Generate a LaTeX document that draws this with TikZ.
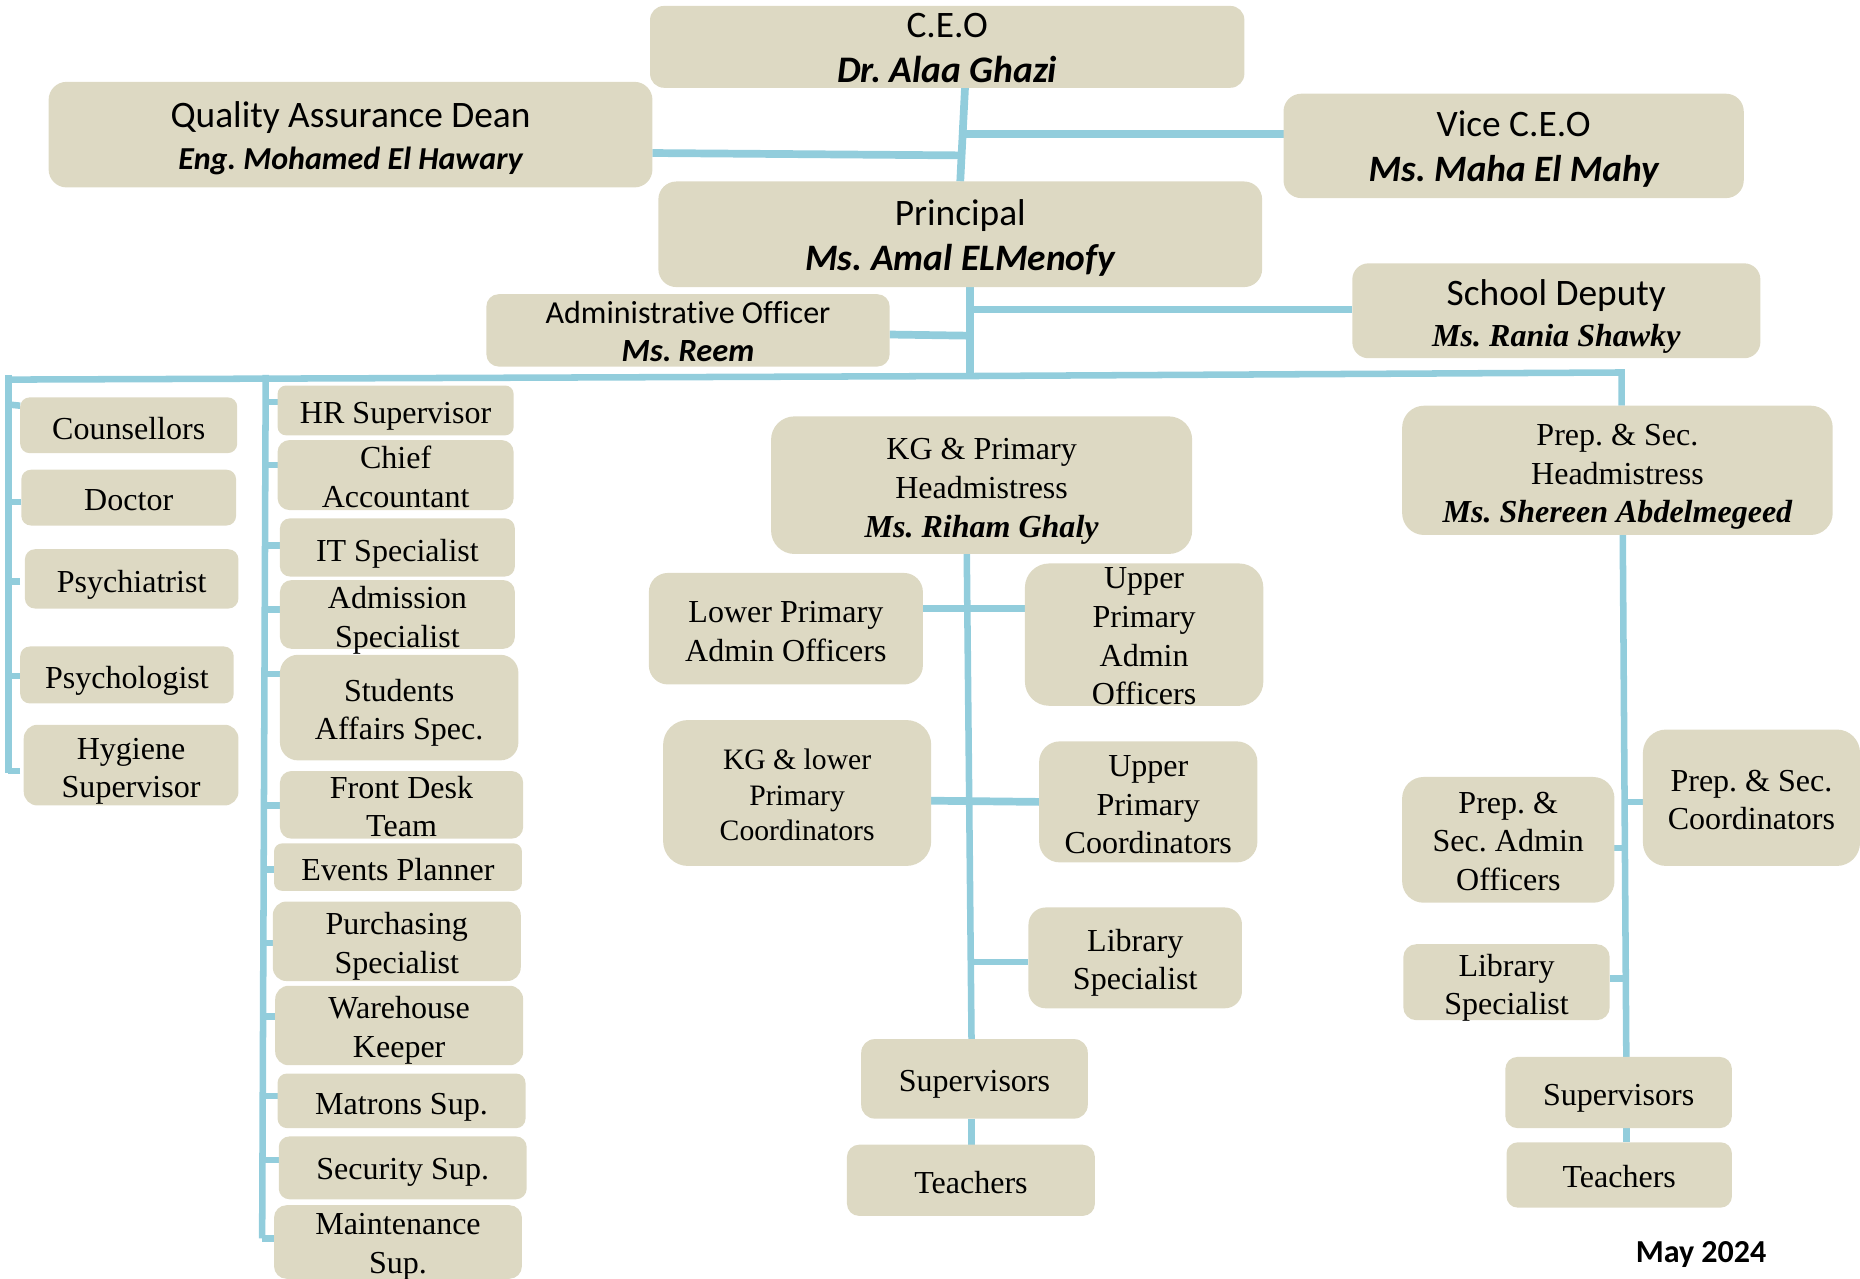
\documentclass[tikz,border=0pt]{standalone}
\usepackage{fontspec}
\usetikzlibrary{backgrounds}
\setmainfont{Liberation Serif}
\newfontfamily\calfont[Ligatures=NoCommon]{Carlito}
\definecolor{boxfill}{HTML}{DDD9C3}
\definecolor{linkblue}{HTML}{92CDDC}
\newcommand{\srb}[1]{{\fontsize{27}{32}\selectfont\bfseries\itshape #1}}
\newcommand{\cfr}[2]{{\calfont\fontsize{#1}{#1}\selectfont #2}}
\newcommand{\cbi}[2]{{\calfont\fontsize{#1}{#1}\selectfont\bfseries\itshape #2}}
\newsavebox{\oxtext}
\makeatletter
% \bx[line spacing]{name}{x1}{y1}{x2}{y2}{text centre y}{lines}
\newcommand{\bx}[7][32.5]{%
  \pgfmathsetmacro\oxw{#5-#3}%
  \pgfmathsetmacro\oxh{#6-#4}%
  \pgfmathsetmacro\oxr{0.17*min(\oxw,\oxh)}%
  \pgfmathsetmacro\oxcx{(#3+#5)/2}%
  \pgfmathsetmacro\oxcy{(#4+#6)/2}%
  \pgfmathsetmacro\oxdy{#7+2.7-\oxcy}%
  \def\ox@skip{#1}\def\ox@name{#2}\ox@go}
\newcommand{\ox@go}[1]{%
  \node[orgbox,minimum width=\oxw pt,minimum height=\oxh pt,rounded corners=\oxr pt]
    (\ox@name) at (\oxcx,\oxcy) {%
      \sbox{\oxtext}{\fontsize{27}{\ox@skip}\selectfont\frenchspacing
        \begin{tabular}[c]{@{}c@{}}#1\end{tabular}}%
      \raisebox{\dimexpr-\oxdy pt-(\ht\oxtext-\dp\oxtext)/2\relax}[0pt][0pt]{\usebox{\oxtext}}};%
}
\makeatother
\tikzset{
  orgbox/.style={fill=boxfill,draw=none,inner sep=0pt,outer sep=0pt},
  conn/.style={draw=linkblue,line width=5.5pt},
  heavy conn/.style={draw=linkblue,line width=6.5pt},
}
\begin{document}
\begin{tikzpicture}[x=1pt,y=-1pt]
\useasboundingbox (0,0) rectangle (1568,1078.2);
\bx[38]{ceo}{548}{5}{1049}{74}{40}{\cfr{31.5}{C.E.O}\\\cbi{31.6}{Dr. Alaa Ghazi}}
\bx[35]{qa}{41}{69}{550}{158}{115.5}{\cfr{31.5}{Quality Assurance Dean}\\\cbi{27}{Eng. Mohamed El Hawary}}
\bx[38]{vice}{1082}{79}{1470}{167}{124}{\cfr{31.5}{Vice C.E.O}\\\cbi{31.4}{Ms. Maha El Mahy}}
\bx[38]{principal}{555}{153}{1064}{242}{199}{\cfr{31.5}{Principal}\\\cbi{31.5}{Ms. Amal ELMenofy}}
\bx[32]{admin}{410}{248}{750}{309}{280}{\cfr{27}{Administrative Officer}\\\cbi{27.3}{Ms. Reem}}
\bx[35]{deputy}{1140}{222}{1484}{302}{265}{\cfr{31.5}{School Deputy}\\\srb{Ms. Rania Shawky}}
\bx{couns}{17}{335}{200}{382}{361}{Counsellors}
\bx{doctor}{18}{396}{199}{443}{421}{Doctor}
\bx{psychiatrist}{21}{463}{201}{513}{490}{Psychiatrist}
\bx{psychologist}{17}{545}{197}{593}{571}{Psychologist}
\bx{hygiene}{20}{611}{201}{679}{647}{Hygiene\\Supervisor}
\bx{hr}{234}{325}{433}{367}{348}{HR Supervisor}
\bx{chief}{234}{371}{433}{430}{402}{Chief\\Accountant}
\bx{it}{236}{437}{434}{486}{464}{IT Specialist}
\bx{admission}{236}{489}{434}{547}{520}{Admission\\Specialist}
\bx{students}{236}{552}{437}{641}{598}{Students\\Affairs Spec.}
\bx{front}{236}{650}{441}{707}{680}{Front Desk\\Team}
\bx{events}{231}{711}{440}{751}{733}{Events Planner}
\bx{purch}{230}{760}{439}{827}{795}{Purchasing\\Specialist}
\bx{ware}{232}{831}{441}{898}{866}{Warehouse\\Keeper}
\bx{matrons}{234}{905}{443}{951}{930}{Matrons Sup.}
\bx{security}{235}{958}{444}{1011}{985}{Security Sup.}
\bx{maint}{231}{1016}{440}{1078}{1048}{Maintenance\\Sup.}
\bx{kghead}{650}{351}{1005}{467}{411}{KG \& Primary\\Headmistress\\\srb{Ms. Riham Ghaly}}
\bx{prephead}{1182}{342}{1545}{451}{399}{Prep. \& Sec.\\Headmistress\\\srb{Ms. Shereen Abdelmegeed}}
\bx{lower}{547}{483}{778}{577}{532}{Lower Primary\\Admin Officers}
\bx{upadmin}{864}{475}{1065}{595}{536}{Upper\\Primary\\Admin\\Officers}
\bx[30]{kgcoord}{559}{607}{785}{730}{670}{{\fontsize{25}{30}\selectfont KG \& lower}\\{\fontsize{25}{30}\selectfont Primary}\\{\fontsize{25}{30}\selectfont Coordinators}}
\bx{upcoord}{876}{625}{1060}{727}{678}{Upper\\Primary\\Coordinators}
\bx{lib}{867}{765}{1047}{850}{809}{Library\\Specialist}
\bx{sup}{726}{876}{917}{943}{911}{Supervisors}
\bx{teach}{714}{965}{923}{1025}{997}{Teachers}
\bx{prepcoord}{1385}{615}{1568}{730}{674}{Prep. \& Sec.\\Coordinators}
\bx{prepadmin}{1182}{655}{1361}{761}{709}{Prep. \&\\Sec. Admin\\Officers}
\bx{libtwo}{1183}{796}{1357}{860}{830}{Library\\Specialist}
\bx{suptwo}{1269}{891}{1460}{951}{923}{Supervisors}
\bx{teachtwo}{1270}{963}{1460}{1018}{992}{Teachers}
\node[inner sep=0pt] (date) at (1434,1057.5) {{\calfont\fontsize{27}{27}\selectfont\bfseries May 2024}};
\coordinate (hubtop) at (809.5,131);
\coordinate (hubvice) at (813,113);
\coordinate (hubmid) at (818,317);
\coordinate (hubdep) at (817.5,261);
\coordinate (hubadm) at (817.5,283);
\coordinate (mainl) at (7,320);
\coordinate (mainr) at (1367,314);
\coordinate (lefttop) at (7,316);
\coordinate (leftend) at (7,652);
\coordinate (midtop) at (224,316);
\coordinate (midend) at (221,1044);
\begin{scope}[on background layer]
\draw[heavy conn] (ceo.south -| 813.5,0) -- (principal.north -| 809.5,0);
\draw[heavy conn] (hubvice) -- (vice.west |- hubvice);
\draw[heavy conn] (qa.east |- 0,129) -- (hubtop);
\draw[heavy conn] (principal.south -| hubmid) -- (hubmid);
\draw[heavy conn] (hubdep) -- (deputy.west |- hubdep);
\draw[heavy conn] (admin.east |- 0,282) -- (hubadm);
\draw[conn] (mainl) -- (hubmid) -- (mainr) -- (prephead.north -| mainr);
\draw[conn] (lefttop) -- (leftend);
\draw[conn] (midtop) -- (midend);
% left column ticks
\draw[conn] (couns.west |- 0,342) -- (7,341);
\draw[conn] (doctor.west |- 0,423) -- (7,423);
\draw[conn] (17,490) -- (7,490);
\draw[conn] (psychologist.west |- 0,570) -- (7,570);
\draw[conn] (17,650) -- (7,650);
% second column ticks
\draw[conn] (hr.west |- 0,339) -- (224,339);
\draw[conn] (chief.west |- 0,392) -- (224,392);
\draw[conn] (it.west |- 0,460) -- (223.5,460);
\draw[conn] (admission.west |- 0,514) -- (223,514);
\draw[conn] (students.west |- 0,568) -- (223,568);
\draw[conn] (front.west |- 0,679) -- (222.5,679);
\draw[conn] (events.west |- 0,733) -- (222.5,733);
\draw[conn] (purch.west |- 0,795) -- (222,795);
\draw[conn] (ware.west |- 0,857) -- (222,857);
\draw[conn] (matrons.west |- 0,924) -- (221.5,924);
\draw[conn] (security.west |- 0,978) -- (221.5,978);
\draw[conn] (maint.west |- 0,1044) -- (221,1044);
% centre trunk
\draw[conn] (kghead.south -| 815,0) -- (sup.north -| 819,0);
\draw[conn] (sup.south -| 819,0) -- (teach.north -| 819,0);
\draw[conn] (lower.east |- 0,513) -- (upadmin.west |- 0,513);
\draw[heavy conn] (kgcoord.east |- 0,675) -- (upcoord.west |- 0,676);
\draw[conn] (819,811) -- (lib.west |- 0,811);
% right trunk
\draw[conn] (prephead.south -| 1368,0) -- (suptwo.north -| 1371,0);
\draw[conn] (suptwo.south -| 1371,0) -- (teachtwo.north -| 1371,0);
\draw[conn] (1370,676) -- (prepcoord.west |- 0,676);
\draw[conn] (prepadmin.east |- 0,715) -- (1369,715);
\draw[conn] (libtwo.east |- 0,825) -- (1370,825);
\end{scope}
\end{tikzpicture}
\end{document}
